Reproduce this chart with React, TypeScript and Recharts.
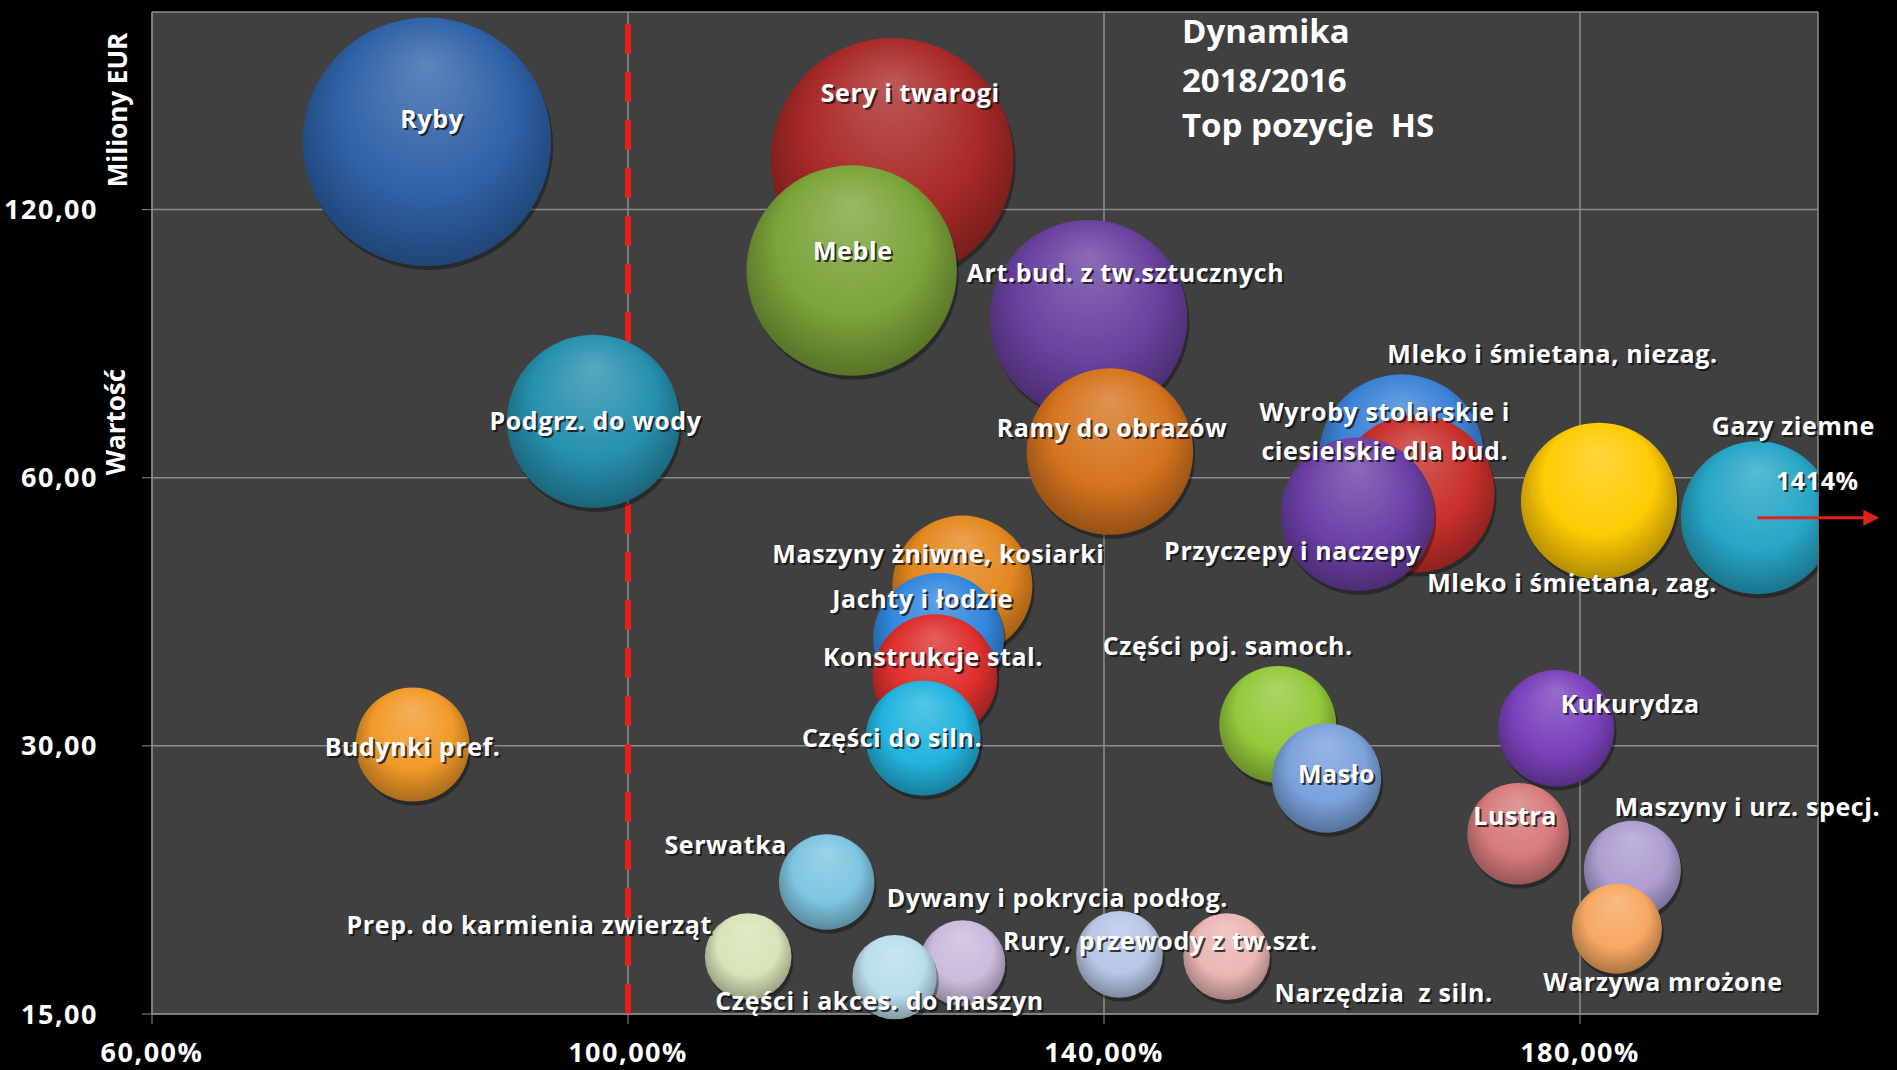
import React from 'react';
import {
  ScatterChart,
  Scatter,
  XAxis,
  YAxis,
  ZAxis,
  CartesianGrid,
  ReferenceLine
} from 'recharts';

// Top pozycje HS: dynamika 2018/2016 (%) vs wartość (mln EUR), bubble size = wartość
const names = [
  'Ryby',
  'Sery i twarogi',
  'Meble',
  'Art.bud. z tw.sztucznych',
  'Ramy do obrazów',
  'Podgrz. do wody',
  'Mleko i śmietana, niezag.',
  'Wyroby stolarskie i\nciesielskie dla bud.',
  'Przyczepy i naczepy',
  'Mleko i śmietana, zag.',
  'Gazy ziemne',
  'Maszyny żniwne, kosiarki',
  'Jachty i łodzie',
  'Konstrukcje stal.',
  'Części do siln.',
  'Budynki pref.',
  'Części poj. samoch.',
  'Masło',
  'Lustra',
  'Kukurydza',
  'Maszyny i urz. specj.',
  'Warzywa mrożone',
  'Serwatka',
  'Prep. do karmienia zwierząt',
  'Dywany i pokrycia podłog.',
  'Części i akces. do maszyn',
  'Rury, przewody z tw.szt.',
  'Narzędzia  z siln.'
];

// Gazy ziemne is really 1414% – drawn at the right edge with an arrow
const dynamika = [
  83.1, 122.2, 118.8, 138.7, 140.5, 97.1, 165.0, 166.2, 161.3, 181.6, 194.9,
  128.1, 126.1, 125.8, 124.8, 81.9, 154.6, 158.7, 174.8, 178.0, 184.4, 183.1,
  116.7, 110.1, 128.1, 122.4, 141.3, 150.3
];

const wartosc = [
  143, 136.6, 102.5, 90.5, 64.2, 69.4, 63.3, 57.6, 54.6, 56.5, 54.1,
  45.4, 39.6, 35.9, 30.6, 30.1, 31.7, 27.6, 23.9, 31.4, 21.8, 18.7,
  21.1, 17.4, 17.1, 16.5, 17.5, 17.4
];

const xTicks = [60, 100, 140, 180];
const yTicks = [15, 30, 60, 120];

const COLORS = [
  '#2F62A8', '#A92A28', '#7CA43A', '#6A41A0', '#D5741F', '#2790AE', '#3C82D6',
  '#C8302C', '#6C40A6', '#FFCB05', '#27A6C6', '#E4881F', '#3388DE', '#DE302D',
  '#23B4DF', '#F29A2A', '#95C93C', '#7BA2DC', '#D77B7B', '#7B42BC', '#AE9ED2',
  '#F7A862', '#7FC5E1', '#D8E4BA', '#CBBBDD', '#BBDEEC', '#B7C7E6', '#ECB7B3'
];

// label position relative to bubble centre, px
const LABEL_OFFSET: [number, number][] = [
  [5, -24], [18, -67], [1, -21], [37, -47], [2, -25], [2, -1], [151, -104],
  [-31, -63], [-65, 36], [-27, 81], [36, -93], [-24, -33], [-16, -40], [-2, -20],
  [-31, -1], [0, 1], [-50, -80], [10, -5], [-3, -19], [74, -25], [115, -63],
  [46, 52], [-101, -38], [-219, -33], [95, -66], [-15, 23], [41, -14], [157, 35]
];

const FONT = '"Open Sans", "DejaVu Sans", sans-serif';

const data = names.map((name, i) => ({ id: i, name, x: dynamika[i], y: wartosc[i] }));

const comma = (v: number) => v.toFixed(2).replace('.', ',');

const mix = (hex: string, target: string, t: number) => {
  const a = parseInt(hex.slice(1), 16);
  const b = parseInt(target.slice(1), 16);
  const ch = (n: number, s: number) => (n >> s) & 255;
  const m = (s: number) => Math.round(ch(a, s) + (ch(b, s) - ch(a, s)) * t);
  return `rgb(${m(16)},${m(8)},${m(0)})`;
};

const Bubble = (props: any) => {
  const { cx, cy, width, payload } = props;
  const r = width / 2;
  const c = COLORS[payload.id];
  const gid = `bub-${payload.id}`;
  return (
    <g>
      <defs>
        <radialGradient id={gid} cx="50%" cy="45%" r="55%" fx="50%" fy="18%">
          <stop offset="0%" stopColor={mix(c, '#ffffff', 0.22)} />
          <stop offset="65%" stopColor={c} />
          <stop offset="100%" stopColor={mix(c, '#000000', 0.3)} />
        </radialGradient>
      </defs>
      <circle cx={cx + 2} cy={cy + 4} r={r} fill="rgba(0,0,0,0.35)" />
      <circle cx={cx} cy={cy} r={r} fill={`url(#${gid})`} />
    </g>
  );
};

const ShadowText = ({ x, y, text, size = 25 }: any) => (
  <g>
    <text x={x + 2} y={y + 2} fill="#111" fillOpacity={0.8} fontSize={size} fontWeight={700}
      fontFamily={FONT} letterSpacing={0.6} textAnchor="middle" dominantBaseline="central"
      xmlSpace="preserve">{text}</text>
    <text x={x} y={y} fill="#ffffff" fontSize={size} fontWeight={700}
      fontFamily={FONT} letterSpacing={0.6} textAnchor="middle" dominantBaseline="central"
      xmlSpace="preserve">{text}</text>
  </g>
);

const BubbleLabel = (props: any) => {
  const { cx, cy, payload } = props;
  const [dx, dy] = LABEL_OFFSET[payload.id];
  const lines: string[] = payload.name.split('\n');
  return (
    <g>
      {lines.map((t, k) => (
        <ShadowText key={k} x={cx + dx} y={cy + dy + (k - (lines.length - 1) / 2) * 39} text={t} />
      ))}
      {payload.name === 'Gazy ziemne' && (
        <g>
          <ShadowText x={cx + 60} y={cy - 38} text="1414%" />
          <line x1={cx} y1={cy} x2={cx + 110} y2={cy} stroke="#E3201B" strokeWidth={3} />
          <polygon points={`${cx + 122},${cy} ${cx + 106},${cy - 8} ${cx + 106},${cy + 8}`} fill="#E3201B" />
        </g>
      )}
    </g>
  );
};

const tickStyle = { fill: '#ffffff', fontSize: 27, fontWeight: 700, fontFamily: FONT, letterSpacing: 1.5 };

const App = () => {
  return (
    <div style={{ position: 'absolute', left: 0, top: 0, width: 1897, height: 1070, background: '#000' }}>
      <ScatterChart width={1897} height={1070} margin={{ top: 12, right: 79, bottom: 0, left: 0 }}>
        <CartesianGrid fill="#404040" fillOpacity={1} stroke="#8C8C8C" strokeWidth={1.5} />
        <XAxis
          xAxisId={0}
          dataKey="x"
          type="number"
          domain={[60, 200]}
          ticks={xTicks}
          allowDataOverflow
          height={56}
          tickSize={10}
          tickMargin={19}
          tickFormatter={(v: number) => `${comma(v)}%`}
          stroke="#8C8C8C"
          tick={tickStyle}
        />
        <XAxis xAxisId="lab" dataKey="x" type="number" domain={[60, 200]} hide />
        <YAxis
          dataKey="y"
          type="number"
          scale="log"
          domain={[15, 200]}
          ticks={yTicks}
          width={152}
          tickSize={10}
          tickMargin={44}
          tickFormatter={comma}
          stroke="#8C8C8C"
          tick={tickStyle}
        />
        <ZAxis dataKey="y" type="number" domain={[0, 150]} range={[0, Math.PI * 108 * 150]} />
        <Scatter data={data} xAxisId={0} shape={Bubble} isAnimationActive={false} />
        <Scatter data={data} xAxisId="lab" shape={BubbleLabel} isAnimationActive={false} />
        <ReferenceLine xAxisId={0} x={100} stroke="#E3201B" strokeWidth={6} strokeDasharray="30 18" />
      </ScatterChart>
      <svg width={1897} height={1070} style={{ position: 'absolute', left: 0, top: 0, pointerEvents: 'none' }}>
        <g fill="#ffffff" fontFamily={FONT} fontWeight={700} fontSize={33}>
          <text x={1182} y={43}>Dynamika</text>
          <text x={1182} y={92}>2018/2016</text>
          <text x={1182} y={137} xmlSpace="preserve">Top pozycje  HS</text>
        </g>
        <g fill="#ffffff" fontFamily={FONT} fontWeight={700} fontSize={26} textAnchor="middle" dominantBaseline="central">
          <text transform="translate(117,110) rotate(-90)">Miliony EUR</text>
          <text transform="translate(115,422) rotate(-90)">Wartość</text>
        </g>
      </svg>
    </div>
  );
};

export default App;
